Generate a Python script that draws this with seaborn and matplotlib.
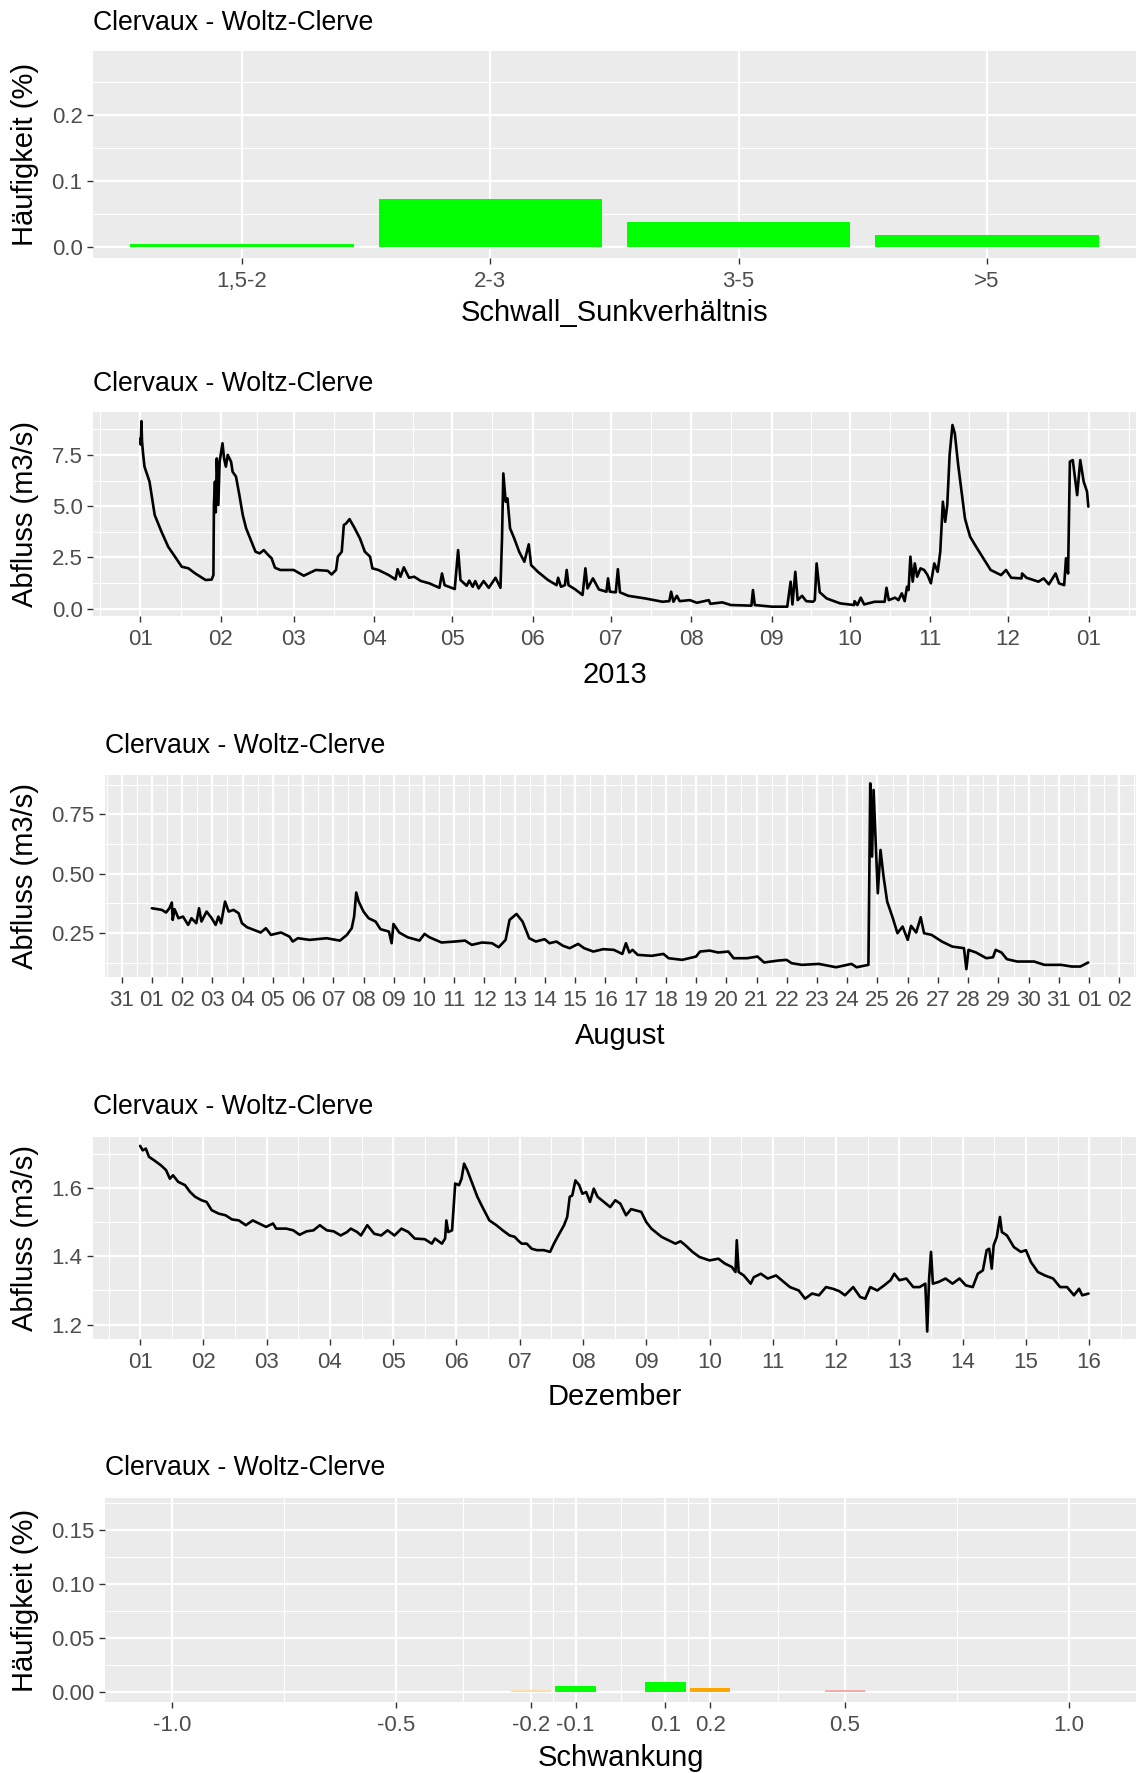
import numpy as np
import pandas as pd
import matplotlib
matplotlib.use("Agg")
import matplotlib.pyplot as plt
import matplotlib.dates as mdates
import seaborn as sns

# ---------------- data ----------------
station = "Clervaux - Woltz-Clerve"

ratio_cats = ["1,5-2", "2-3", "3-5", ">5"]
ratio_freq = [0.0056, 0.0731, 0.0376, 0.0188]

# discharge 2013: day offset from 2013-01-01, value m3/s
year_days = [0.0, 0.15, 0.4, 0.6, 1.0, 1.57, 3.5, 5.5, 8.1, 10.7, 13.3, 15.9, 18.5, 21.1, 25.1, 27.4,
             28.1, 28.3, 28.7, 29.0, 29.4, 30.0, 30.5, 31.6, 32.2, 32.9, 33.6, 34.9, 35.5, 36.8, 38.1,
             39.4, 40.7, 42.0, 44.3, 45.9, 47.5, 49.2, 50.5, 51.8, 53.8, 59.0, 62.9, 67.5, 72.1, 73.6,
             75.3, 76.0, 77.5, 78.3, 79.2, 80.5, 82.5, 84.5, 86.4, 88.4, 89.3, 91.6, 95.6, 98.2, 99.0,
             100.1, 101.4, 103.4, 105.4, 108.0, 111.2, 115.1, 116.1, 117.1, 121.0, 122.3, 123.2, 125.6,
             126.6, 127.9, 128.9, 130.2, 132.1, 134.1, 136.7, 138.6, 139.2, 139.7, 140.6, 141.3, 142.3,
             143.9, 145.8, 147.8, 149.5, 150.4, 153.0, 156.9, 160.2, 160.8, 161.9, 163.4, 164.1, 164.8,
             167.4, 170.2, 171.3, 172.1, 174.2, 176.5, 179.4, 180.0, 180.7, 183.0, 183.8, 184.6, 187.8,
             194.4, 201.0, 203.6, 204.3, 205.2, 206.5, 207.6, 211.5, 214.2, 218.8, 219.4, 224.0, 227.3,
             235.2, 235.8, 236.5, 243.1, 249.0, 250.3, 251.0, 252.1, 253.0, 254.7, 256.3, 258.9, 259.6,
             260.3, 261.5, 264.2, 269.4, 274.7, 274.9, 276.0, 277.3, 278.6, 282.6, 286.5, 287.2, 288.1,
             290.5, 291.8, 293.1, 294.2, 295.1, 295.7, 296.4, 297.3, 298.1, 299.0, 300.3, 301.7, 303.0,
             304.3, 305.6, 306.9, 307.9, 308.9, 309.8, 310.6, 311.5, 312.6, 313.5, 314.8, 316.1, 317.4,
             318.1, 319.4, 322.1, 324.7, 327.3, 331.3, 333.2, 335.2, 339.2, 339.4, 341.1, 345.7, 347.7,
             349.7, 352.3, 353.6, 355.6, 356.3, 357.1, 357.8, 358.9, 360.6, 361.8, 363.1, 364.4, 364.9]
year_q = [8.3, 8.0, 9.15, 8.2, 7.6, 6.93, 6.2, 4.57, 3.76, 3.02, 2.54, 2.05, 1.97, 1.72, 1.40, 1.42,
          1.64, 5.06, 6.2, 4.7, 7.33, 5.06, 7.17, 8.07, 7.33, 6.93, 7.5, 7.17, 6.68, 6.44, 5.54,
          4.57, 3.92, 3.51, 2.78, 2.70, 2.86, 2.62, 2.46, 2.0, 1.89, 1.89, 1.61, 1.89, 1.85, 1.67,
          1.89, 2.54, 2.78, 4.08, 4.16, 4.37, 3.92, 3.43, 2.78, 2.54, 1.97, 1.89, 1.64, 1.43, 1.93,
          1.56, 2.02, 1.51, 1.56, 1.35, 1.24, 1.02, 1.72, 1.15, 0.96, 2.86, 1.40, 1.12,
          1.37, 1.07, 1.35, 0.99, 1.35, 1.02, 1.51, 1.02, 3.43, 6.6, 5.22, 5.38, 3.92,
          3.43, 2.78, 2.29, 3.14, 2.13, 1.80, 1.40, 1.15, 1.51, 1.07, 1.15, 1.89, 1.15,
          0.94, 0.67, 1.97, 0.99, 1.48, 0.94, 0.83, 1.48, 0.83, 0.80, 1.93, 0.80, 0.63,
          0.50, 0.34, 0.37, 0.83, 0.34, 0.63, 0.37, 0.42, 0.29, 0.42, 0.24, 0.31, 0.18,
          0.15, 0.91, 0.18, 0.10, 0.10, 1.32, 0.21, 1.80, 0.42, 0.63, 0.37, 0.34, 0.42,
          2.21, 0.80, 0.50, 0.26, 0.18, 0.37, 0.18, 0.54, 0.21, 0.34, 0.34, 1.02, 0.42,
          0.54, 0.42, 0.75, 0.37, 1.07, 0.91, 2.54, 1.32, 2.21, 1.56, 1.97, 1.89, 1.64,
          1.24, 2.21, 1.80, 2.78, 5.22, 4.24, 5.06, 7.50, 8.96, 8.55, 7.01, 5.71, 4.41,
          4.08, 3.51, 2.94, 2.42, 1.89, 1.64, 1.89, 1.51, 1.48, 1.72, 1.51, 1.32, 1.48,
          1.19, 1.72, 1.24, 1.15, 2.46, 1.72, 7.17, 7.25, 5.54, 7.25, 6.20, 5.71, 4.98]

# discharge August 2013: day offset from 2013-08-01
aug_days = [0.0, 0.19, 0.33, 0.47, 0.58, 0.66, 0.69, 0.75, 0.88, 1.03, 1.2, 1.31, 1.47, 1.56, 1.64,
            1.81, 1.98, 2.11, 2.2, 2.29, 2.42, 2.54, 2.7, 2.87, 2.98, 3.15, 3.43, 3.6, 3.77, 3.94,
            4.27, 4.55, 4.66, 4.83, 5.22, 5.78, 6.22, 6.45, 6.61, 6.69, 6.76, 6.84, 7.0, 7.17, 7.4,
            7.56, 7.84, 7.93, 7.99, 8.18, 8.46, 8.85, 9.02, 9.18, 9.58, 10.02, 10.36, 10.58, 10.92,
            11.25, 11.47, 11.7, 11.83, 12.06, 12.26, 12.48, 12.7, 12.99, 13.15, 13.38, 13.6, 13.82,
            14.1, 14.3, 14.6, 14.93, 15.28, 15.56, 15.68, 15.79, 15.9, 16.07, 16.53, 16.92, 17.09,
            17.54, 18.0, 18.13, 18.45, 18.73, 19.07, 19.24, 19.69, 20.03, 20.25, 20.71, 20.99, 21.16,
            21.5, 22.06, 22.63, 23.14, 23.31, 23.7, 23.76, 23.82, 23.87, 24.01, 24.1, 24.2, 24.32,
            24.49, 24.66, 24.83, 25.0, 25.11, 25.28, 25.43, 25.54, 25.79, 26.13, 26.47, 26.86, 26.94,
            27.01, 27.26, 27.6, 27.82, 27.91, 28.1, 28.28, 28.62, 29.18, 29.52, 30.08, 30.42, 30.71,
            30.97]
aug_q = [0.355, 0.351, 0.348, 0.337, 0.355, 0.379, 0.306, 0.351, 0.313, 0.32, 0.285, 0.313, 0.292,
         0.355, 0.299, 0.341, 0.313, 0.285, 0.32, 0.292, 0.383, 0.341, 0.348, 0.334, 0.292, 0.275,
         0.261, 0.253, 0.271, 0.243, 0.253, 0.236, 0.215, 0.229, 0.222, 0.229, 0.219, 0.243, 0.271,
         0.32, 0.421, 0.383, 0.341, 0.313, 0.299, 0.267, 0.257, 0.208, 0.289, 0.253, 0.233, 0.219,
         0.247, 0.233, 0.211, 0.215, 0.219, 0.201, 0.211, 0.208, 0.191, 0.222, 0.306, 0.331, 0.299,
         0.229, 0.215, 0.225, 0.208, 0.215, 0.197, 0.187, 0.205, 0.187, 0.173, 0.183, 0.18, 0.163,
         0.208, 0.169, 0.18, 0.159, 0.155, 0.163, 0.145, 0.138, 0.152, 0.173, 0.177, 0.169, 0.173,
         0.145, 0.145, 0.152, 0.127, 0.135, 0.138, 0.124, 0.117, 0.121, 0.107, 0.121, 0.107, 0.117,
         0.88, 0.572, 0.852, 0.418, 0.6, 0.488, 0.383, 0.32, 0.25, 0.278, 0.222, 0.281, 0.253, 0.317,
         0.25, 0.243, 0.215, 0.194, 0.187, 0.099, 0.18, 0.169, 0.145, 0.149, 0.18, 0.169, 0.141,
         0.131, 0.131, 0.117, 0.117, 0.11, 0.11, 0.127]

# discharge December 2013: day offset from 2013-12-01
dec_days = [0.0, 0.04, 0.09, 0.14, 0.22, 0.33, 0.41, 0.47, 0.52, 0.6, 0.71, 0.79, 0.87, 0.97, 1.05,
            1.13, 1.24, 1.35, 1.45, 1.56, 1.67, 1.78, 1.88, 1.99, 2.1, 2.15, 2.31, 2.42, 2.52, 2.63,
            2.74, 2.84, 2.95, 3.06, 3.17, 3.27, 3.33, 3.43, 3.49, 3.59, 3.7, 3.81, 3.91, 4.02, 4.13,
            4.24, 4.34, 4.5, 4.61, 4.66, 4.77, 4.82, 4.84, 4.87, 4.93, 4.98, 5.04, 5.08, 5.12, 5.17,
            5.25, 5.33, 5.41, 5.52, 5.63, 5.73, 5.84, 5.92, 5.97, 6.03, 6.11, 6.19, 6.27, 6.38, 6.48,
            6.54, 6.61, 6.7, 6.75, 6.79, 6.83, 6.88, 6.94, 6.99, 7.05, 7.11, 7.17, 7.23, 7.43, 7.51,
            7.59, 7.68, 7.76, 7.92, 8.0, 8.08, 8.24, 8.35, 8.46, 8.54, 8.62, 8.73, 8.84, 9.0, 9.14,
            9.24, 9.35, 9.41, 9.43, 9.46, 9.54, 9.65, 9.7, 9.81, 9.92, 10.05, 10.14, 10.27, 10.41,
            10.51, 10.62, 10.73, 10.84, 10.95, 11.05, 11.14, 11.27, 11.38, 11.46, 11.54, 11.65, 11.76,
            11.86, 11.92, 12.0, 12.11, 12.22, 12.32, 12.41, 12.44, 12.47, 12.5, 12.53, 12.62, 12.73,
            12.84, 12.95, 13.05, 13.16, 13.24, 13.32, 13.38, 13.42, 13.46, 13.49, 13.54, 13.59, 13.62,
            13.7, 13.81, 13.92, 14.0, 14.08, 14.19, 14.3, 14.43, 14.54, 14.65, 14.76, 14.84, 14.89,
            14.99]
dec_q = [1.723, 1.71, 1.715, 1.691, 1.681, 1.666, 1.652, 1.627, 1.637, 1.618, 1.608, 1.588, 1.574,
         1.564, 1.559, 1.535, 1.525, 1.52, 1.508, 1.505, 1.491, 1.505, 1.496, 1.486, 1.496, 1.481,
         1.481, 1.476, 1.463, 1.473, 1.476, 1.491, 1.476, 1.473, 1.461, 1.471, 1.481, 1.471, 1.461,
         1.491, 1.466, 1.461, 1.476, 1.461, 1.481, 1.471, 1.452, 1.45, 1.437, 1.452, 1.437, 1.452,
         1.505, 1.471, 1.476, 1.613, 1.608, 1.627, 1.671, 1.652, 1.613, 1.574, 1.544, 1.505, 1.491,
         1.476, 1.461, 1.457, 1.447, 1.437, 1.437, 1.422, 1.418, 1.418, 1.413, 1.437, 1.461, 1.491,
         1.515, 1.574, 1.578, 1.622, 1.608, 1.583, 1.588, 1.559, 1.598, 1.574, 1.544, 1.564, 1.554,
         1.52, 1.538, 1.53, 1.5, 1.481, 1.457, 1.447, 1.437, 1.444, 1.432, 1.413, 1.398, 1.388,
         1.393, 1.379, 1.369, 1.354, 1.447, 1.354, 1.344, 1.32, 1.339, 1.349, 1.335, 1.344, 1.33,
         1.31, 1.3, 1.276, 1.291, 1.286, 1.31, 1.305, 1.298, 1.286, 1.31, 1.281, 1.276, 1.31, 1.3,
         1.315, 1.33, 1.349, 1.33, 1.335, 1.31, 1.31, 1.32, 1.18, 1.335, 1.413, 1.32, 1.325, 1.335,
         1.32, 1.335, 1.315, 1.31, 1.349, 1.359, 1.418, 1.422, 1.364, 1.432, 1.457, 1.515, 1.471,
         1.461, 1.427, 1.413, 1.418, 1.383, 1.354, 1.344, 1.335, 1.31, 1.31, 1.286, 1.305, 1.286,
         1.291]

fluct_labels = ["-0.2", "-0.1", "0.1", "0.2", "0.5"]
fluct_x = [-0.2, -0.1, 0.1, 0.2, 0.5]
fluct_freq = [0.0015, 0.0056, 0.0096, 0.0040, 0.0015]
fluct_colors = ["#FBDDA8", "#00FF00", "#00FF00", "#FFA500", "#F7A9A8"]

# ---------------- style ----------------
W, H = 1136, 1773
BG = "#EBEBEB"
sns.set_theme(style="darkgrid", rc={
    "axes.facecolor": BG,
    "grid.color": "white",
    "axes.edgecolor": BG,
    "axes.linewidth": 0,
})
FONT = ["Liberation Sans", "DejaVu Sans"]
plt.rcParams["font.family"] = FONT

TICK_FS = 16
AXT_FS = 21
TITLE_FS = 19.2
LINE_W = 1.9

fig = plt.figure(figsize=(W / 100, H / 100), dpi=100)


def panel(l, t, r, b):
    return fig.add_axes([l / W, 1 - b / H, (r - l) / W, (b - t) / H])


def finish(ax, l, t, r, b, title_y, xlabel, xlabel_y, ylabel,
           xminor=None, yminor=None):
    ax.set_xlabel("")
    ax.set_ylabel("")
    for s in ax.spines.values():
        s.set_visible(False)
    ax.set_axisbelow(True)
    ax.grid(which="major", color="white", linewidth=1.6)
    if xminor is not None:
        ax.set_xticks(xminor, minor=True)
    if yminor is not None:
        ax.set_yticks(yminor, minor=True)
    ax.grid(which="minor", color="white", linewidth=0.8)
    ax.tick_params(which="major", bottom=True, left=True, length=4.5, width=1.0,
                   color="#333333", labelcolor="#4D4D4D", labelsize=TICK_FS)
    ax.tick_params(axis="x", which="major", pad=5)
    ax.tick_params(axis="y", which="major", pad=3)
    ax.tick_params(which="minor", bottom=False, left=False, length=0)
    fig.text(l / W, 1 - title_y / H, station, fontsize=TITLE_FS, color="black",
             ha="left", va="center")
    fig.text((l + r) / 2 / W, 1 - xlabel_y / H, xlabel, fontsize=AXT_FS,
             color="black", ha="center", va="center")
    fig.text(25 / W, 1 - (t + b) / 2 / H, ylabel, fontsize=AXT_FS, color="black",
             ha="center", va="center", rotation=90)


# ---- Panel 1: Schwall_Sunkverhältnis ----
l, t, r, b = 93, 51, 1136, 257.5
ax1 = panel(l, t, r, b)
sns.barplot(x=ratio_cats, y=ratio_freq, color="#00FF00", saturation=1, width=0.9,
            errorbar=None, linewidth=0, edgecolor="none", ax=ax1)
ax1.set_xlim(-0.6, 3.6)
ax1.set_ylim(-0.0152, 0.296)
ax1.set_yticks([0.0, 0.1, 0.2])
ax1.set_yticklabels(["0.0", "0.1", "0.2"])
finish(ax1, l, t, r, b, 22.5, "Schwall_Sunkverhältnis", 313, "Häufigkeit (%)",
       yminor=[0.05, 0.15, 0.25])
ax1.grid(which="minor", axis="x", visible=False)

# ---- Panel 2: year ----
l, t, r, b = 93, 412.3, 1136, 615.7
ax2 = panel(l, t, r, b)
start = pd.Timestamp("2013-01-01")
df_year = pd.DataFrame({"Zeit": start + pd.to_timedelta(year_days, unit="D"), "Q": year_q})
sns.lineplot(data=df_year, x="Zeit", y="Q", color="black", linewidth=LINE_W,
             estimator=None, sort=False, ax=ax2)
ax2.set_xlim(start - pd.Timedelta(days=18.25), start + pd.Timedelta(days=383.25))
ax2.set_ylim(-0.34, 9.58)
mt = pd.date_range("2013-01-01", "2014-01-01", freq="MS")
mt_all = mdates.date2num(pd.date_range("2012-12-01", "2014-02-01", freq="MS").to_pydatetime())
ax2.set_xticks(mdates.date2num(mt.to_pydatetime()))
ax2.set_xticklabels([d.strftime("%m") for d in mt])
ax2.set_yticks([0, 2.5, 5, 7.5])
ax2.set_yticklabels(["0.0", "2.5", "5.0", "7.5"])
finish(ax2, l, t, r, b, 384, "2013", 675, "Abfluss (m3/s)",
       xminor=(mt_all[:-1] + mt_all[1:]) / 2, yminor=[1.25, 3.75, 6.25, 8.75])

# ---- Panel 3: August ----
l, t, r, b = 105, 775, 1136, 977
ax3 = panel(l, t, r, b)
aug0 = pd.Timestamp("2013-08-01")
df_aug = pd.DataFrame({"Zeit": aug0 + pd.to_timedelta(aug_days, unit="D"), "Q": aug_q})
sns.lineplot(data=df_aug, x="Zeit", y="Q", color="black", linewidth=LINE_W,
             estimator=None, sort=False, ax=ax3)
ax3.set_xlim(aug0 - pd.Timedelta(days=1.55), aug0 + pd.Timedelta(days=32.55))
ax3.set_ylim(0.066, 0.915)
dt = pd.date_range("2013-07-31", "2013-09-02", freq="D")
dt_all = mdates.date2num(pd.date_range("2013-07-30", "2013-09-03", freq="D").to_pydatetime())
ax3.set_xticks(mdates.date2num(dt.to_pydatetime()))
ax3.set_xticklabels([d.strftime("%d") for d in dt])
ax3.set_yticks([0.25, 0.5, 0.75])
ax3.set_yticklabels(["0.25", "0.50", "0.75"])
finish(ax3, l, t, r, b, 746, "August", 1036, "Abfluss (m3/s)",
       xminor=(dt_all[:-1] + dt_all[1:]) / 2, yminor=[0.125, 0.375, 0.625, 0.875])

# ---- Panel 4: Dezember ----
l, t, r, b = 93, 1137, 1136, 1338.7
ax4 = panel(l, t, r, b)
dec0 = pd.Timestamp("2013-12-01")
df_dec = pd.DataFrame({"Zeit": dec0 + pd.to_timedelta(dec_days, unit="D"), "Q": dec_q})
sns.lineplot(data=df_dec, x="Zeit", y="Q", color="black", linewidth=LINE_W,
             estimator=None, sort=False, ax=ax4)
ax4.set_xlim(dec0 - pd.Timedelta(days=0.745), dec0 + pd.Timedelta(days=15.74))
ax4.set_ylim(1.159, 1.749)
ddt = pd.date_range("2013-12-01", "2013-12-16", freq="D")
ddt_all = mdates.date2num(pd.date_range("2013-11-30", "2013-12-17", freq="D").to_pydatetime())
ax4.set_xticks(mdates.date2num(ddt.to_pydatetime()))
ax4.set_xticklabels([d.strftime("%d") for d in ddt])
ax4.set_yticks([1.2, 1.4, 1.6])
ax4.set_yticklabels(["1.2", "1.4", "1.6"])
finish(ax4, l, t, r, b, 1107.5, "Dezember", 1397, "Abfluss (m3/s)",
       xminor=(ddt_all[:-1] + ddt_all[1:]) / 2, yminor=[1.3, 1.5, 1.7])

# ---- Panel 5: Schwankung ----
l, t, r, b = 105, 1498.3, 1136, 1701.7
ax5 = panel(l, t, r, b)
df_f = pd.DataFrame({"Schwankung": fluct_x, "freq": fluct_freq, "klasse": fluct_labels})
sns.barplot(data=df_f, x="Schwankung", y="freq", hue="klasse",
            palette=dict(zip(fluct_labels, fluct_colors)), native_scale=True,
            dodge=False, width=0.9, saturation=1, errorbar=None, legend=False,
            linewidth=0, edgecolor="none", ax=ax5)
ax5.set_xlim(-1.149, 1.149)
ax5.set_ylim(-0.009, 0.1794)
xt = [-1.0, -0.5, -0.2, -0.1, 0.1, 0.2, 0.5, 1.0]
ax5.set_xticks(xt)
ax5.set_xticklabels(["-1.0", "-0.5", "-0.2", "-0.1", "0.1", "0.2", "0.5", "1.0"])
ax5.set_yticks([0.0, 0.05, 0.10, 0.15])
ax5.set_yticklabels(["0.00", "0.05", "0.10", "0.15"])
finish(ax5, l, t, r, b, 1468, "Schwankung", 1758, "Häufigkeit (%)",
       xminor=[(a + c) / 2 for a, c in zip(xt[:-1], xt[1:])],
       yminor=[0.025, 0.075, 0.125, 0.175])

fig.savefig("out.png", dpi=100, facecolor="white")
